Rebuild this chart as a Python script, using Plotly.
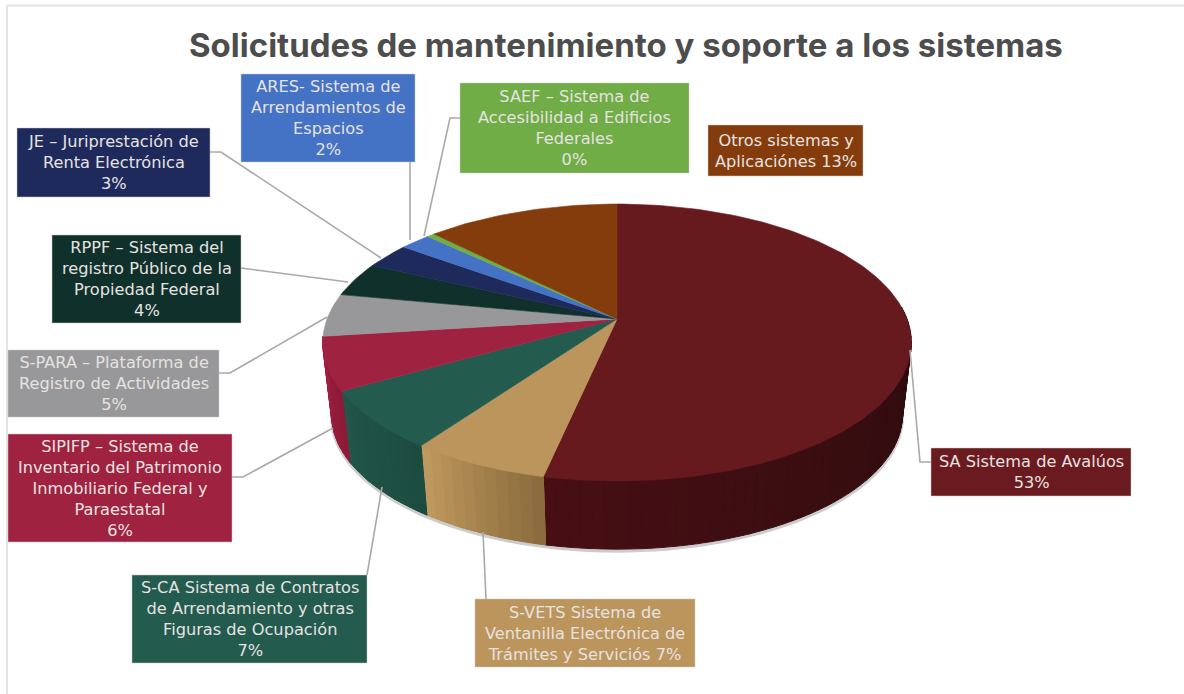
import math
import plotly.graph_objects as go

# ---------- data ----------
categories = ["SA Sistema de Avalúos", "S-VETS Sistema de Ventanilla Electrónica de Trámites y Servicios",
              "S-CA Sistema de Contratos de Arrendamiento y otras Figuras de Ocupación",
              "SIPIFP – Sistema de Inventario del Patrimonio Inmobiliario Federal y Paraestatal",
              "S-PARA – Plataforma de Registro de Actividades",
              "RPPF – Sistema del registro Público de la Propiedad Federal",
              "JE – Juriprestación de Renta Electrónica", "ARES- Sistema de Arrendamientos de Espacios",
              "SAEF – Sistema de Accesibilidad a Edificios Federales", "Otros sistemas y Aplicaciónes"]
values = [53.4, 6.5, 6.9, 6.2, 5.0, 4.0, 3.0, 2.0, 0.5, 12.5]
label_text = ["SA Sistema de Avalúos<br>53%",
              "S-VETS Sistema de<br>Ventanilla Electrónica de<br>Trámites y Serviciós 7%",
              "S-CA Sistema de Contratos<br>de Arrendamiento y otras<br>Figuras de Ocupación<br>7%",
              "SIPIFP – Sistema de<br>Inventario del Patrimonio<br>Inmobiliario Federal y<br>Paraestatal<br>6%",
              "S-PARA – Plataforma de<br>Registro de Actividades<br>5%",
              "RPPF – Sistema del<br>registro Público de la<br>Propiedad Federal<br>4%",
              "JE – Juriprestación de<br>Renta Electrónica<br>3%",
              "ARES- Sistema de<br>Arrendamientos de<br>Espacios<br>2%",
              "SAEF – Sistema de<br>Accesibilidad a Edificios<br>Federales<br>0%",
              "Otros sistemas y<br>Aplicaciónes 13%"]
title_text = "Solicitudes de mantenimiento y soporte a los sistemas"

# ---------- styles ----------
top_colors = ["#671a1e", "#bc955c", "#235b4e", "#9f2241", "#98989a", "#10312b", "#1f2a5c", "#4472c4", "#70ad47", "#843c0c"]
box_colors = ["#6b1a20", "#bc955c", "#235b4e", "#9f2241", "#98989a", "#10312b", "#1f2a5c", "#4472c4", "#70ad47", "#843c0c"]
side_from = ["#2a0b0d", "#8a6a3c", "#1c4c40", "#8c1a38", None, None, None, None, None, None]
side_to = ["#470f14", "#c09a5e", "#215648", "#a01f40", None, None, None, None, None, None]
boxes = [(931, 448, 1131, 496), (475, 599, 695, 667), (132, 575, 367, 663), (8, 434, 232, 542),
         (8, 350, 219, 417), (52, 235, 241, 323), (17, 128, 210, 197), (241, 74, 415, 162),
         (460, 83, 689, 173), (708, 125, 863, 176)]
leaders = [[(931, 462), (920, 462), (910, 350)], [(486, 599), (483, 532)], [(367, 575), (382, 487)],
           [(232, 477), (243, 477), (333, 428)], [(219, 373), (230, 373), (327, 317)],
           [(241, 268), (348, 282)], [(210, 152), (221, 152), (381, 258)], [(410, 162), (410, 240)],
           [(460, 118), (450, 118), (424, 236)]]
CX, CY = 617, 319      # apex of the pie on the page
A, B, K = 134.5, 290, 0.17   # projection of the tilted disc
DEPTH, SHRINK = 73, 0.97
LABEL_FONT = "DejaVu Sans"
TITLE_FONT = "Inter"


def rim(theta, bottom=False):
    s, c = math.sin(theta), math.cos(theta)
    d = 1 + K * c
    x, y = B * s / d, -A * c / d
    if bottom:
        return CX + SHRINK * x, CY + DEPTH + SHRINK * y
    return CX + x, CY + y


def mix(c1, c2, t):
    a = [int(c1[i:i + 2], 16) for i in (1, 3, 5)]
    b = [int(c2[i:i + 2], 16) for i in (1, 3, 5)]
    return "rgb(%d,%d,%d)" % tuple(round(p + (q - p) * t) for p, q in zip(a, b))


def poly(xs, ys, fill, line=None, width=1.0):
    return go.Scatter(x=xs, y=ys, mode="lines", fill="toself", fillcolor=fill,
                      line=dict(color=line or fill, width=width), hoverinfo="skip", showlegend=False)


def wall(a0, a1, col):
    pts = [rim(a0 + (a1 - a0) * q / 3) for q in range(4)] + [rim(a1 - (a1 - a0) * q / 3, True) for q in range(4)]
    return poly([p[0] for p in pts] + [pts[0][0]], [p[1] for p in pts] + [pts[0][1]], col)


total = sum(values)
edges = [0.0]
for v in values:
    edges.append(edges[-1] + v / total * 2 * math.pi)

fig = go.Figure()

# soft shadow under the pie
vis0, vis1 = math.radians(85), math.radians(275)
n = 90
sx, sy = [], []
for i in range(n + 1):
    px, py = rim(vis0 + (vis1 - vis0) * i / n, True)
    sx.append(px)
    sy.append(py + 2)
fig.add_trace(go.Scatter(x=sx, y=sy, mode="lines", line=dict(color="rgba(110,110,110,0.35)", width=3),
                         hoverinfo="skip", showlegend=False))

# side walls
for i, v in enumerate(values):
    if side_from[i] is None:
        continue
    t0, t1 = max(edges[i], vis0), min(edges[i + 1], vis1)
    fig.add_trace(wall(t0, t1, mix(side_from[i], side_to[i], 0.5)))
    strips = max(3, int(math.degrees(t1 - t0) / 2))
    for j in range(strips):
        a0 = t0 + (t1 - t0) * j / strips
        a1 = t0 + (t1 - t0) * (j + 1) / strips
        fig.add_trace(wall(a0, a1, mix(side_from[i], side_to[i], (j + 0.5) / strips)))

# top face
for i, v in enumerate(values):
    steps = max(3, int(math.degrees(edges[i + 1] - edges[i]) / 1.5))
    pts = [(CX, CY)] + [rim(edges[i] + (edges[i + 1] - edges[i]) * q / steps) for q in range(steps + 1)] + [(CX, CY)]
    fig.add_trace(poly([p[0] for p in pts], [p[1] for p in pts], top_colors[i], width=0.6))

# leader lines
for seg in leaders:
    fig.add_trace(go.Scatter(x=[p[0] for p in seg], y=[p[1] for p in seg], mode="lines",
                             line=dict(color="#a9a9a9", width=1.6), hoverinfo="skip", showlegend=False))

shapes = [
    dict(type="line", xref="x", yref="y", x0=7, x1=1184, y0=5.5, y1=5.5, line=dict(color="#e4e4e4", width=2), layer="below"),
    dict(type="line", xref="x", yref="y", x0=7, x1=7, y0=5, y1=694, line=dict(color="#e4e4e4", width=2), layer="below"),
]
annotations = []
for (x0, y0, x1, y1), col, txt in zip(boxes, box_colors, label_text):
    shapes.append(dict(type="rect", xref="x", yref="y", x0=x0, x1=x1, y0=y0, y1=y1, fillcolor=col,
                       line=dict(color="rgba(200,200,200,0.5)", width=1), layer="above"))
    annotations.append(dict(x=(x0 + x1) / 2, y=(y0 + y1) / 2, xref="x", yref="y", text=txt, showarrow=False,
                            align="center", xanchor="center", yanchor="middle",
                            font=dict(family=LABEL_FONT, size=16.2, color="#e6e2e0")))
annotations.append(dict(x=626, y=45, xref="x", yref="y", text=title_text, showarrow=False,
                        xanchor="center", yanchor="middle",
                        font=dict(family=TITLE_FONT, size=33, color="#4d4d4d", weight=700)))

fig.update_layout(
    width=1184, height=694, autosize=False, margin=dict(l=0, r=0, t=0, b=0),
    paper_bgcolor="white", plot_bgcolor="white", showlegend=False,
    xaxis=dict(range=[0, 1184], visible=False, fixedrange=True),
    yaxis=dict(range=[694, 0], visible=False, fixedrange=True),
    shapes=shapes, annotations=annotations,
)
fig.write_html("out.html", config={"displayModeBar": False},
               post_script="document.body.style.margin='0';document.documentElement.style.overflow='hidden';")
